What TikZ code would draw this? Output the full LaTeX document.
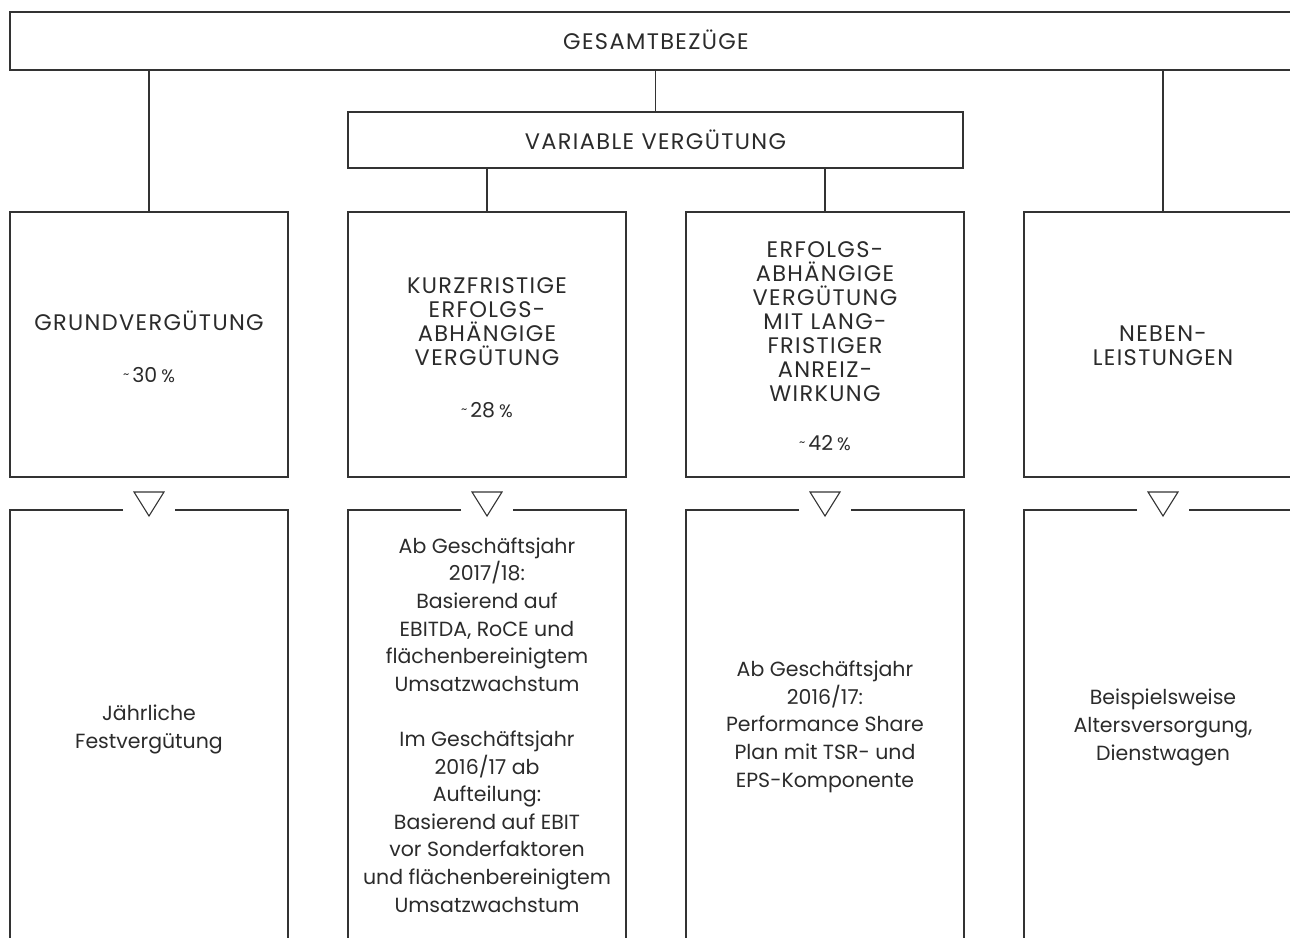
\documentclass[tikz,border=0pt]{standalone}
\usepackage{fontspec}
\setmainfont{Poppins}
\definecolor{ink}{HTML}{2B2B2B}
\definecolor{rulec}{HTML}{333333}
\newcommand{\captext}{\fontsize{22.5}{24}\selectfont\addfontfeatures{LetterSpace=6}}
\newcommand{\bodytext}{\fontsize{20.5}{27.6}\selectfont}
\newcommand{\pct}[1]{{\fontsize{12}{12}\selectfont\raisebox{3.5pt}{\textasciitilde}}\hspace{3pt}#1\hspace{4pt}{\fontsize{18}{18}\selectfont\%}}
\begin{document}
\begin{tikzpicture}[x=1pt,y=-1pt,
  boxst/.style={draw=rulec,line width=1.2pt,rectangle,inner sep=0pt},
  link/.style={draw=rulec,line width=1.2pt},
  tri/.style={draw=rulec,line width=1.1pt,line join=miter},
  captxt/.style={anchor=base,align=center,inner sep=0pt,text=ink,font=\captext},
  pcttxt/.style={anchor=base,align=center,inner sep=0pt,text=ink,font=\fontsize{20.5}{24}\selectfont},
  bodytxt/.style={anchor=base,align=center,inner sep=0pt,text=ink,font=\bodytext}]
\useasboundingbox (0,0) rectangle (1290,937);
\clip (0,0) rectangle (1290,937);
% boxes
\node[boxst,minimum width=1300pt,minimum height=58pt] (top) at (660,41) {};
\node[boxst,minimum width=615pt,minimum height=56pt] (var) at (655.5,140) {};
\node[boxst,minimum width=278pt,minimum height=265pt] (b1) at (149,344.5) {};
\node[boxst,minimum width=278pt,minimum height=265pt] (b2) at (487,344.5) {};
\node[boxst,minimum width=278pt,minimum height=265pt] (b3) at (825,344.5) {};
\node[boxst,minimum width=278pt,minimum height=265pt] (b4) at (1163,344.5) {};
% connectors
\draw[link] (top.south -| b1.north) -- (b1.north);
\draw[link] (top.south -| var.north) -- (var.north);
\draw[link] (top.south -| b4.north) -- (b4.north);
\draw[link] (var.south -| b2.north) -- (b2.north);
\draw[link] (var.south -| b3.north) -- (b3.north);
% triangles and lower boxes
\foreach \c/\n in {149/1,487/2,825/3,1163/4}{
  \draw[tri] (\c-15,492) -- (\c+15,492) -- (\c,516) -- cycle;
  \draw[link] (\c-26,510) -- (\c-139,510) -- (\c-139,960);
  \draw[link] (\c+26,510) -- (\c+139,510) -- (\c+139,960);
}
% texts upper (anchor = baseline of last line)
\node[captxt] (tTop) at (656,49) {GESAMTBEZÜGE};
\node[captxt] (tVar) at (655.5,149) {VARIABLE VERGÜTUNG};
\node[captxt] (t1) at (149,330) {GRUNDVERGÜTUNG};
\node[pcttxt] (p1) at (149,382) {\pct{30}};
\node[captxt] (t2) at (487,365) {KURZFRISTIGE\\ERFOLGS-\\ABHÄNGIGE\\VERGÜTUNG};
\node[pcttxt] (p2) at (487,417) {\pct{28}};
\node[captxt] (t3) at (825,401) {ERFOLGS-\\ABHÄNGIGE\\VERGÜTUNG\\MIT LANG-\\FRISTIGER\\ANREIZ-\\WIRKUNG};
\node[pcttxt] (p3) at (825,450) {\pct{42}};
\node[captxt] (t4) at (1163,365) {NEBEN-\\LEISTUNGEN};
% texts lower
\node[bodytxt] (l1) at (149,748) {Jährliche\\Festvergütung};
\node[bodytxt] (l2) at (487,912) {Ab Geschäftsjahr\\2017/18:\\Basierend auf\\EBITDA, RoCE und\\flächenbereinigtem\\Umsatzwachstum\\[27.6pt]Im Geschäftsjahr\\2016/17 ab\\Aufteilung:\\Basierend auf EBIT\\vor Sonderfaktoren\\und flächenbereinigtem\\Umsatzwachstum};
\node[bodytxt] (l3) at (825,787) {Ab Geschäftsjahr\\2016/17:\\Performance Share\\Plan mit TSR- und\\EPS-Komponente};
\node[bodytxt] (l4) at (1163,760) {Beispielsweise\\Altersversorgung,\\Dienstwagen};
\end{tikzpicture}
\end{document}
